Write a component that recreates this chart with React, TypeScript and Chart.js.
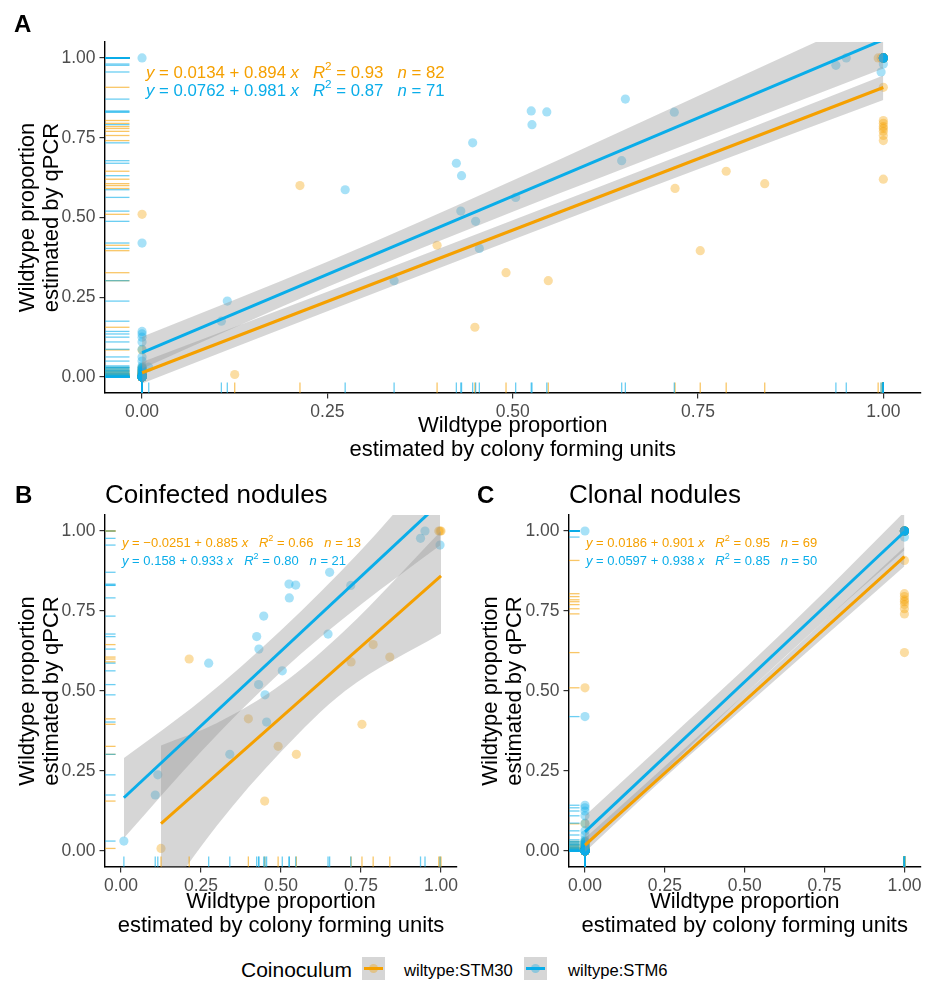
import React, { useEffect, useRef } from 'react';
import { Chart, registerables } from 'chart.js';

Chart.register(...registerables);

const FAMILY = '"Liberation Sans", Arial, Helvetica, sans-serif';
Chart.defaults.font.family = FAMILY;

const ORANGE = '#F5A000';
const BLUE = '#0AADE9';
const ORANGE_PT = 'rgba(245,160,0,0.36)';
const BLUE_PT = 'rgba(10,173,233,0.36)';
const ORANGE_RUG = 'rgba(245,160,0,0.6)';
const BLUE_RUG = 'rgba(10,173,233,0.6)';
const BAND = 'rgba(153,153,153,0.4)';

const legendTitle = 'Coinoculum';
const seriesNames = ['wiltype:STM30', 'wiltype:STM6'];
const tickValues = [0, 0.25, 0.5, 0.75, 1];
const axisMin = -0.05;
const axisMax = 1.05;
const xTitle = ['Wildtype proportion', 'estimated by colony forming units'];
const yTitle = ['Wildtype proportion', 'estimated by qPCR'];

// ---- Coinfected nodules (panel B) ----
const coinfOrangeX = [0.125, 0.213, 0.398, 0.449, 0.491, 0.548, 0.719, 0.753, 0.788, 0.840, 0.993, 0.997, 1.0];
const coinfOrangeY = [0.008, 0.600, 0.413, 0.156, 0.327, 0.302, 0.591, 0.396, 0.645, 0.606, 1.0, 1.0, 1.0];
const coinfBlueX = [0.009, 0.107, 0.115, 0.274, 0.340, 0.424, 0.431, 0.430, 0.446, 0.450, 0.455, 0.504, 0.525, 0.546, 0.526, 0.652, 0.647, 0.718, 0.936, 0.950, 0.997];
const coinfBlueY = [0.031, 0.175, 0.238, 0.587, 0.302, 0.670, 0.631, 0.520, 0.734, 0.488, 0.403, 0.563, 0.834, 0.831, 0.791, 0.871, 0.678, 0.830, 0.977, 1.000, 0.956];

// ---- Clonal nodules (panel C): qPCR values for CFU proportion 0 and 1 ----
const clonalOrangeY0 = [0.51, 0.085, 0.03, 0.025, 0.02, 0.018, 0.015, 0.012, 0.01, 0.01, 0.008, 0.008, 0.006, 0.005, 0.005, 0.004, 0.003, 0.003, 0.002, 0.002, 0.001, 0.001,
  0, 0, 0, 0, 0, 0, 0, 0, 0, 0, 0, 0, 0, 0, 0, 0, 0, 0, 0, 0, 0, 0];
const clonalOrangeY1 = [1, 1, 1, 1, 1, 1, 1, 1, 1, 1, 1, 1, 1, 1, 1, 1, 0.908, 0.804, 0.795, 0.785, 0.779, 0.77, 0.757, 0.741, 0.62];
const clonalBlueY0 = [1.0, 0.42, 0.143, 0.135, 0.125, 0.11, 0.087, 0.063, 0.05, 0.035, 0.03, 0.028, 0.025, 0.022, 0.02, 0.018, 0.015, 0.012, 0.01, 0.008, 0.006, 0.005, 0.004, 0.003, 0.002, 0.001,
  0, 0, 0, 0, 0, 0, 0, 0, 0, 0, 0, 0];
const clonalBlueY1 = [1, 1, 1, 1, 1, 1, 1, 1, 1, 1, 1, 0.981];

// ---- Fitted lines [orange, blue] ----
const interceptA = [0.0134, 0.0762];
const slopeA = [0.894, 0.981];
const r2A = [0.93, 0.87];
const interceptB = [-0.0251, 0.158];
const slopeB = [0.885, 0.933];
const r2B = [0.66, 0.80];
const interceptC = [0.0186, 0.0597];
const slopeC = [0.901, 0.938];
const r2C = [0.95, 0.85];

// ---- Confidence bands ----
const bandA_OrangeX = [0, 0.25, 0.5, 0.75, 1];
const bandA_OrangeLo = [-0.02, 0.206, 0.430, 0.651, 0.868];
const bandA_OrangeHi = [0.047, 0.267, 0.491, 0.716, 0.945];
const bandA_BlueX = [0, 0.25, 0.5, 0.75, 1];
const bandA_BlueLo = [0.026, 0.282, 0.518, 0.743, 0.967];
const bandA_BlueHi = [0.126, 0.361, 0.616, 0.881, 1.147];

const bandB_OrangeX = [0.125, 0.3, 0.5, 0.7, 1.0];
const bandB_OrangeLo = [-0.16, 0.08, 0.31, 0.50, 0.68];
const bandB_OrangeHi = [0.33, 0.40, 0.52, 0.69, 1.0];
const bandB_BlueX = [0.009, 0.25, 0.5, 0.75, 0.997];
const bandB_BlueLo = [0.04, 0.31, 0.56, 0.77, 0.955];
const bandB_BlueHi = [0.29, 0.47, 0.69, 0.94, 1.22];

const bandC_OrangeX = [0, 0.25, 0.5, 0.75, 1];
const bandC_OrangeLo = [-0.003, 0.23, 0.45, 0.67, 0.89];
const bandC_OrangeHi = [0.04, 0.265, 0.49, 0.72, 0.95];
const bandC_BlueX = [0, 0.25, 0.5, 0.75, 1];
const bandC_BlueLo = [0.01, 0.25, 0.49, 0.72, 0.94];
const bandC_BlueHi = [0.11, 0.34, 0.57, 0.81, 1.06];

type Pt = { x: number; y: number };
const zip = (xs: number[], ys: number[]): Pt[] => xs.map((x, i) => ({ x, y: ys[i] }));
const at = (x: number, ys: number[]): Pt[] => ys.map((y) => ({ x, y }));

const coinfOrange = zip(coinfOrangeX, coinfOrangeY);
const coinfBlue = zip(coinfBlueX, coinfBlueY);
const clonalOrange = [...at(0, clonalOrangeY0), ...at(1, clonalOrangeY1)];
const clonalBlue = [...at(0, clonalBlueY0), ...at(1, clonalBlueY1)];
const allOrange = [...coinfOrange, ...clonalOrange];
const allBlue = [...coinfBlue, ...clonalBlue];

type Series = {
  pts: Pt[]; a: number; b: number; r2: number;
  bx: number[]; lo: number[]; hi: number[];
  line: string; fill: string; rug: string;
};

type PanelCfg = {
  left: number; top: number; width: number; height: number;
  padTop: number; padRight: number; yAxisW: number; xAxisH: number;
  yTitlePad: number; xTitlePad: number;
  eqDx: number; eqDy: number; eqSize: number; eqGap: number;
  series: Series[]; // [orange, blue]
};

type Seg = { t: string; it?: boolean; sup?: boolean };
function eqSegments(a: number, b: number, r2: number, n: number): Seg[] {
  const fmt = (v: number) => v.toPrecision(3).replace('-', '\u2212');
  return [
    { t: 'y', it: true },
    { t: ' = ' + fmt(a) + ' + ' + fmt(b) + ' ' },
    { t: 'x', it: true },
    { t: '   ' },
    { t: 'R', it: true },
    { t: '2', sup: true },
    { t: ' = ' + r2.toFixed(2) + '   ' },
    { t: 'n', it: true },
    { t: ' = ' + n },
  ];
}

function makeSeries(pts: Pt[], a: number, b: number, r2: number, bx: number[], lo: number[], hi: number[], k: number): Series {
  return {
    pts, a, b, r2, bx, lo, hi,
    line: k === 0 ? ORANGE : BLUE,
    fill: k === 0 ? ORANGE_PT : BLUE_PT,
    rug: k === 0 ? ORANGE_RUG : BLUE_RUG,
  };
}

const panelA: PanelCfg = {
  left: 0, top: 0, width: 925, height: 470,
  padTop: 42, padRight: 3, yAxisW: 105, xAxisH: 77,
  yTitlePad: 16, xTitlePad: 8,
  eqDx: 41, eqDy: 36, eqSize: 16.8, eqGap: 17.7,
  series: [
    makeSeries(allOrange, interceptA[0], slopeA[0], r2A[0], bandA_OrangeX, bandA_OrangeLo, bandA_OrangeHi, 0),
    makeSeries(allBlue, interceptA[1], slopeA[1], r2A[1], bandA_BlueX, bandA_BlueLo, bandA_BlueHi, 1),
  ],
};
const panelB: PanelCfg = {
  left: 0, top: 470, width: 465, height: 470,
  padTop: 45, padRight: 8, yAxisW: 105, xAxisH: 73,
  yTitlePad: 16, xTitlePad: 2,
  eqDx: 17, eqDy: 32, eqSize: 13, eqGap: 17.7,
  series: [
    makeSeries(coinfOrange, interceptB[0], slopeB[0], r2B[0], bandB_OrangeX, bandB_OrangeLo, bandB_OrangeHi, 0),
    makeSeries(coinfBlue, interceptB[1], slopeB[1], r2B[1], bandB_BlueX, bandB_BlueLo, bandB_BlueHi, 1),
  ],
};
const panelC: PanelCfg = {
  left: 465, top: 470, width: 460, height: 470,
  padTop: 45, padRight: 4, yAxisW: 104, xAxisH: 73,
  yTitlePad: 14, xTitlePad: 2,
  eqDx: 17, eqDy: 32, eqSize: 13, eqGap: 17.7,
  series: [
    makeSeries(clonalOrange, interceptC[0], slopeC[0], r2C[0], bandC_OrangeX, bandC_OrangeLo, bandC_OrangeHi, 0),
    makeSeries(clonalBlue, interceptC[1], slopeC[1], r2C[1], bandC_BlueX, bandC_BlueLo, bandC_BlueHi, 1),
  ],
};

function buildConfig(cfg: PanelCfg): any {
  const datasets: any[] = [];
  const [so, sb] = cfg.series;
  for (const s of [so, sb]) {
    datasets.push({
      data: zip(s.bx, s.lo), showLine: true, pointRadius: 0, borderWidth: 0,
      borderColor: 'rgba(0,0,0,0)', fill: false, order: 2, cubicInterpolationMode: 'monotone',
    });
    datasets.push({
      data: zip(s.bx, s.hi), showLine: true, pointRadius: 0, borderWidth: 0,
      borderColor: 'rgba(0,0,0,0)', backgroundColor: BAND, fill: '-1', order: 2, cubicInterpolationMode: 'monotone',
    });
  }
  for (const s of [sb, so]) {
    const xs = s.pts.map((p) => p.x);
    const x0 = Math.min(...xs);
    const x1 = Math.max(...xs);
    datasets.push({
      data: [{ x: x0, y: s.a + s.b * x0 }, { x: x1, y: s.a + s.b * x1 }],
      showLine: true, pointRadius: 0, borderColor: s.line, borderWidth: 3, fill: false, order: 1,
    });
  }
  for (const s of [sb, so]) {
    datasets.push({
      data: s.pts, showLine: false, pointRadius: 4.6, pointHoverRadius: 4.6,
      backgroundColor: s.fill, borderWidth: 0, pointBorderWidth: 0, order: 3,
    });
  }

  const rugPlugin = {
    id: 'rug',
    afterDatasetsDraw(chart: any) {
      const { ctx, chartArea: ca, scales } = chart;
      const lenX = 0.03 * (ca.bottom - ca.top);
      const lenY = 0.03 * (ca.right - ca.left);
      ctx.save();
      ctx.lineWidth = 1.3;
      for (const s of cfg.series) {
        ctx.strokeStyle = s.rug;
        for (const p of s.pts) {
          const px = scales.x.getPixelForValue(p.x);
          ctx.beginPath();
          ctx.moveTo(px, ca.bottom);
          ctx.lineTo(px, ca.bottom - lenX);
          ctx.stroke();
          const py = scales.y.getPixelForValue(p.y);
          ctx.beginPath();
          ctx.moveTo(ca.left, py);
          ctx.lineTo(ca.left + lenY, py);
          ctx.stroke();
        }
      }
      ctx.restore();
    },
  };

  const eqPlugin = {
    id: 'eq',
    afterDatasetsDraw(chart: any) {
      const { ctx, chartArea: ca } = chart;
      ctx.save();
      ctx.textAlign = 'left';
      ctx.textBaseline = 'alphabetic';
      cfg.series.forEach((s, k) => {
        const segs = eqSegments(s.a, s.b, s.r2, s.pts.length);
        let cx = ca.left + cfg.eqDx;
        const y = ca.top + cfg.eqDy + k * cfg.eqGap;
        ctx.fillStyle = s.line;
        for (const g of segs) {
          const fs = g.sup ? cfg.eqSize * 0.7 : cfg.eqSize;
          ctx.font = `${g.it ? 'italic ' : ''}${fs}px ${FAMILY}`;
          ctx.fillText(g.t, cx, g.sup ? y - cfg.eqSize * 0.45 : y);
          cx += ctx.measureText(g.t).width;
        }
      });
      ctx.restore();
    },
  };

  const tickFont = { family: FAMILY, size: 17.5 };
  const titleFont = { family: FAMILY, size: 22, lineHeight: 1.08 };
  const common = {
    type: 'linear',
    min: axisMin,
    max: axisMax,
    afterBuildTicks: (axis: any) => {
      axis.ticks = tickValues.map((v) => ({ value: v }));
    },
    grid: { display: true, drawOnChartArea: false, drawTicks: true, tickLength: 5.5, color: '#333333', lineWidth: 1.2 },
    border: { display: true, color: '#000000', width: 1.4 },
  };

  return {
    type: 'scatter',
    data: { datasets },
    plugins: [rugPlugin, eqPlugin],
    options: {
      animation: false,
      responsive: false,
      events: [],
      layout: { padding: { top: cfg.padTop, right: cfg.padRight, left: 0, bottom: 0 } },
      plugins: { legend: { display: false }, tooltip: { enabled: false } },
      scales: {
        x: {
          ...common,
          position: 'bottom',
          afterFit: (axis: any) => { axis.height = cfg.xAxisH; },
          ticks: {
            autoSkip: false, maxRotation: 0, padding: 3, color: '#4D4D4D', font: tickFont,
            callback: (v: any) => Number(v).toFixed(2),
          },
          title: { display: true, text: xTitle, color: '#000000', font: titleFont, padding: { top: 0, bottom: cfg.xTitlePad } },
        },
        y: {
          ...common,
          position: 'left',
          afterFit: (axis: any) => { axis.width = cfg.yAxisW; },
          ticks: {
            autoSkip: false, padding: 4, color: '#4D4D4D', font: tickFont,
            callback: (v: any) => Number(v).toFixed(2),
          },
          title: { display: true, text: yTitle, color: '#000000', font: titleFont, padding: { top: cfg.yTitlePad, bottom: 0 } },
        },
      },
    },
  };
}

function Panel({ cfg }: { cfg: PanelCfg }) {
  const ref = useRef<HTMLCanvasElement | null>(null);
  useEffect(() => {
    if (!ref.current) return;
    const chart = new Chart(ref.current, buildConfig(cfg));
    return () => chart.destroy();
  }, [cfg]);
  return (
    <canvas
      ref={ref}
      width={cfg.width}
      height={cfg.height}
      style={{ position: 'absolute', left: cfg.left, top: cfg.top, width: cfg.width, height: cfg.height }}
    />
  );
}

function Label({ text, left, baseline, size, bold }: { text: string; left: number; baseline: number; size: number; bold?: boolean }) {
  return (
    <div
      style={{
        position: 'absolute', left, top: baseline - 0.8465 * size, fontSize: size, lineHeight: 1,
        fontFamily: FAMILY, fontWeight: bold ? 'bold' : 'normal', color: '#000', whiteSpace: 'nowrap',
      }}
    >
      {text}
    </div>
  );
}

function LegendKey({ left, top, color, fill }: { left: number; top: number; color: string; fill: string }) {
  return (
    <div style={{ position: 'absolute', left, top, width: 23, height: 23, background: '#D6D6D6' }}>
      <div style={{ position: 'absolute', left: 2, top: 10, width: 19, height: 3, background: color }} />
      <div style={{ position: 'absolute', left: 7, top: 7, width: 9, height: 9, borderRadius: '50%', background: fill }} />
    </div>
  );
}

export default function App() {
  return (
    <div style={{ position: 'absolute', left: 0, top: 0, width: 925, height: 988, background: '#ffffff', overflow: 'hidden' }}>
      <Panel cfg={panelA} />
      <Panel cfg={panelB} />
      <Panel cfg={panelC} />
      <Label text="A" left={14} baseline={32} size={24} bold />
      <Label text="B" left={15} baseline={503.5} size={24} bold />
      <Label text="C" left={477} baseline={503.5} size={24} bold />
      <Label text="Coinfected nodules" left={105} baseline={503.3} size={26} />
      <Label text="Clonal nodules" left={569} baseline={503.3} size={26} />
      <Label text={legendTitle} left={241} baseline={977} size={21} />
      <LegendKey left={362} top={957} color={ORANGE} fill={ORANGE_PT} />
      <Label text={seriesNames[0]} left={404} baseline={977.5} size={16.6} />
      <LegendKey left={524} top={957} color={BLUE} fill={BLUE_PT} />
      <Label text={seriesNames[1]} left={568} baseline={977.5} size={16.6} />
    </div>
  );
}
